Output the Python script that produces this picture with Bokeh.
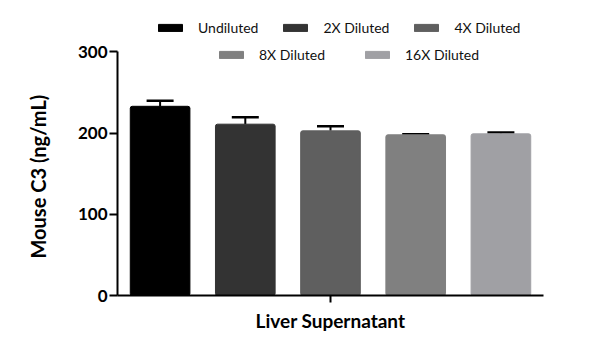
from bokeh.plotting import figure
from bokeh.models import (ColumnDataSource, Range1d, FixedTicker, Whisker, TeeHead,
                          Legend, LegendItem, Title)
from bokeh.embed import file_html
from bokeh.resources import INLINE

# ---- data ----
group = "Liver Supernatant"
series = ["Undiluted", "2X Diluted", "4X Diluted", "8X Diluted", "16X Diluted"]
means = [233.0, 211.0, 202.8, 197.9, 199.1]
errors = [6.8, 8.6, 5.7, 0.8, 1.6]
colors = ["#000000", "#333333", "#5f5f5f", "#808080", "#a0a0a4"]
y_ticks = [0, 100, 200, 300]
y_title = "Mouse C3 (ng/mL)"

FONT = "Lato"

x = list(range(len(series)))
src = ColumnDataSource(dict(
    x=x, top=means, color=colors, name=series,
    upper=[m + e for m, e in zip(means, errors)],
    lower=means,
))

p = figure(width=600, height=347, output_backend="svg", toolbar_location=None,
           x_range=Range1d(-0.5, len(series) - 0.5), y_range=Range1d(0, 351),
           min_border_left=117, min_border_right=57, min_border_top=10,
           min_border_bottom=52)
p.outline_line_color = None
p.grid.grid_line_color = None
p.background_fill_color = "white"
p.border_fill_color = "white"

renderers = []
for i in range(len(series)):
    view_src = ColumnDataSource(dict(x=[x[i]], top=[means[i]]))
    r = p.vbar(x="x", top="top", width=0.70, bottom=0, source=view_src,
               fill_color=colors[i], line_color=colors[i], line_width=1,
               border_radius=2)
    renderers.append(r)

wh = Whisker(source=src, base="x", upper="upper", lower="lower",
             dimension="height", line_color="black", line_width=2,
             upper_head=TeeHead(size=27, line_width=2.5, line_color="black"),
             lower_head=None)
p.add_layout(wh)

# y axis
ya = p.yaxis[0]
ya.bounds = (0, 300)
ya.ticker = FixedTicker(ticks=y_ticks)
ya.minor_tick_line_color = None
ya.major_tick_in = 0
ya.major_tick_out = 8
ya.major_tick_line_width = 2
ya.axis_line_width = 2
ya.axis_line_color = "black"
ya.major_tick_line_color = "black"
ya.major_label_standoff = 2
ya.major_label_text_font = FONT
ya.major_label_text_font_style = "bold"
ya.major_label_text_font_size = "17px"
ya.major_label_text_color = "black"

# y title (left of the axis, centred on the 0-300 span)
p.add_layout(Title(text=y_title, align="left", offset=37, vertical_align="top",
                   standoff=46, text_font=FONT, text_font_style="bold",
                   text_font_size="20px", text_color="black"), "left")

# x axis
xa = p.xaxis[0]
xa.ticker = FixedTicker(ticks=[(len(series) - 1) / 2])
xa.major_label_overrides = {(len(series) - 1) / 2: group}
xa.minor_tick_line_color = None
xa.major_tick_in = 0
xa.major_tick_out = 7
xa.major_tick_line_width = 2
xa.axis_line_width = 2
xa.axis_line_color = "black"
xa.major_tick_line_color = "black"
xa.major_label_standoff = 6
xa.major_label_text_font = FONT
xa.major_label_text_font_style = "bold"
xa.major_label_text_font_size = "19px"
xa.major_label_text_color = "black"

def make_legend(idx, loc, spacing):
    lg = Legend(items=[LegendItem(label=series[i], renderers=[renderers[i]]) for i in idx],
                orientation="horizontal", location=loc, spacing=spacing,
                glyph_width=30, glyph_height=9, label_standoff=13,
                padding=0, margin=0, border_line_alpha=0, background_fill_alpha=0,
                label_text_font=FONT, label_text_font_size="14px",
                label_text_color="#111111", label_height=18)
    return lg

p.add_layout(make_legend([0, 1, 2], (38, 259), 22))
p.add_layout(make_legend([3, 4], (99, 232), 37))

open("out.html", "w").write(file_html(p, INLINE))
